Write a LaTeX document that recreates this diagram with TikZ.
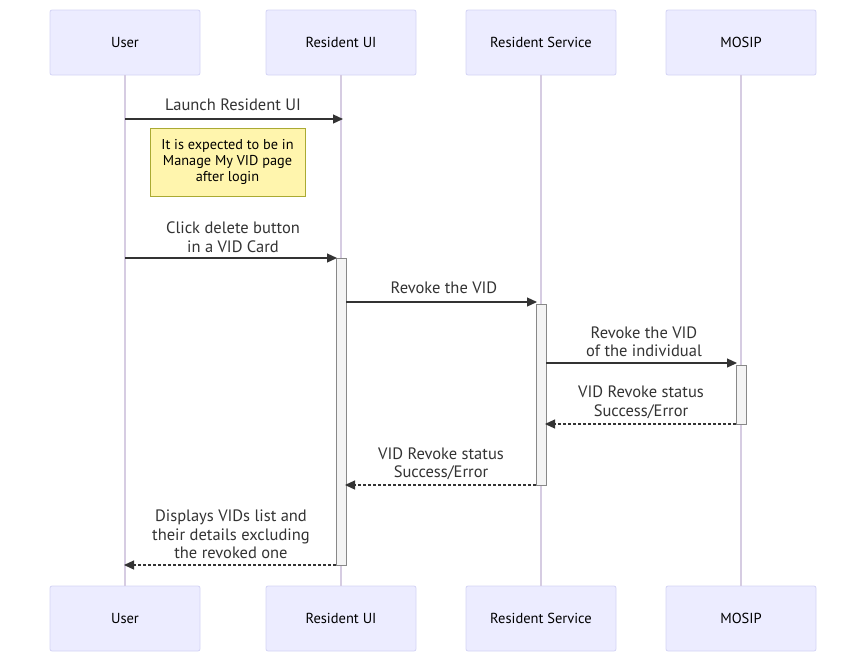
\documentclass[tikz,border=0pt]{standalone}
\usepackage{fontspec}
\setmainfont{PT Sans}
\usetikzlibrary{arrows.meta}
\definecolor{actfill}{HTML}{ECECFF}
\definecolor{actdraw}{HTML}{D4D4F5}
\definecolor{lifeline}{HTML}{D6CCE2}
\definecolor{msgcol}{HTML}{333333}
\definecolor{notefill}{HTML}{FFF5AD}
\definecolor{notedraw}{HTML}{AAAA33}
\definecolor{actvfill}{HTML}{F4F4F4}
\definecolor{actvdraw}{HTML}{888888}
\tikzset{
  actor/.style={draw=actdraw, fill=actfill, rounded corners=2pt, minimum width=150pt, minimum height=65pt, font=\fontsize{14.5}{16}\selectfont, text=black, inner sep=0pt, line width=0.8pt},
  life/.style={draw=lifeline, line width=1.3pt},
  msg/.style={draw=msgcol, line width=1.2pt, -{Triangle[length=10pt,width=9pt]}},
  reply/.style={msg, dash pattern=on 3pt off 2pt},
  lbl/.style={font=\fontsize{16.5}{18.5}\selectfont, text=msgcol, align=center, inner sep=0pt},
  activ/.style={draw=actvdraw, fill=actvfill, line width=1pt},
  notebox/.style={draw=notedraw, fill=notefill, font=\fontsize{14.3}{16}\selectfont, align=center, text=black, minimum width=155pt, minimum height=68pt, inner sep=0pt, line width=0.8pt}
}
\begin{document}
\begin{tikzpicture}[x=1pt,y=-1pt]
\useasboundingbox (0,0) rectangle (866,662);
% actors top
\node[actor] (u1) at (125,42.5) {User};
\node[actor] (r1) at (341,42.5) {Resident UI};
\node[actor] (s1) at (541,42.5) {Resident Service};
\node[actor] (m1) at (741,42.5) {MOSIP};
% actors bottom
\node[actor] (u2) at (125,618.5) {User};
\node[actor] (r2) at (341,618.5) {Resident UI};
\node[actor] (s2) at (541,618.5) {Resident Service};
\node[actor] (m2) at (741,618.5) {MOSIP};
% lifelines
\draw[life] (u1.south) -- (u2.north);
\draw[life] (r1.south) -- (r2.north);
\draw[life] (s1.south) -- (s2.north);
\draw[life] (m1.south) -- (m2.north);
% activations
\draw[activ] (336,258) rectangle (346,565);
\draw[activ] (536,304) rectangle (546,485);
\draw[activ] (736,365) rectangle (746,424);
% coordinates
\coordinate (a1) at (125,119); \coordinate (b1) at (343,119);
\coordinate (a2) at (125,258); \coordinate (b2) at (337,258);
\coordinate (a3) at (346,302); \coordinate (b3) at (537,302);
\coordinate (a4) at (546,363); \coordinate (b4) at (737,363);
\coordinate (a5) at (736,424); \coordinate (b5) at (545,424);
\coordinate (a6) at (536,485); \coordinate (b6) at (345,485);
\coordinate (a7) at (336,565); \coordinate (b7) at (124,565);
% messages
\draw[msg] (a1) -- (b1);
\node[lbl] (t1) at (233,105) {Launch Resident UI};
\node[notebox] (n1) at (227.5,162) {It is expected to be in\\Manage My VID page\\after login};
\draw[msg] (a2) -- (b2);
\node[lbl] (t2) at (233,237) {Click delete button\\in a VID Card};
\draw[msg] (a3) -- (b3);
\node[lbl] (t3) at (444,288) {Revoke the VID};
\draw[msg] (a4) -- (b4);
\node[lbl] (t4) at (644,341.5) {Revoke the VID\\of the individual};
\draw[reply] (a5) -- (b5);
\node[lbl] (t5) at (641,402.5) {VID Revoke status\\Success/Error};
\draw[reply] (a6) -- (b6);
\node[lbl] (t6) at (441,464) {VID Revoke status\\Success/Error};
\draw[reply] (a7) -- (b7);
\node[lbl] (t7) at (231,534.5) {Displays VIDs list and\\their details excluding\\the revoked one};
\end{tikzpicture}
\end{document}
